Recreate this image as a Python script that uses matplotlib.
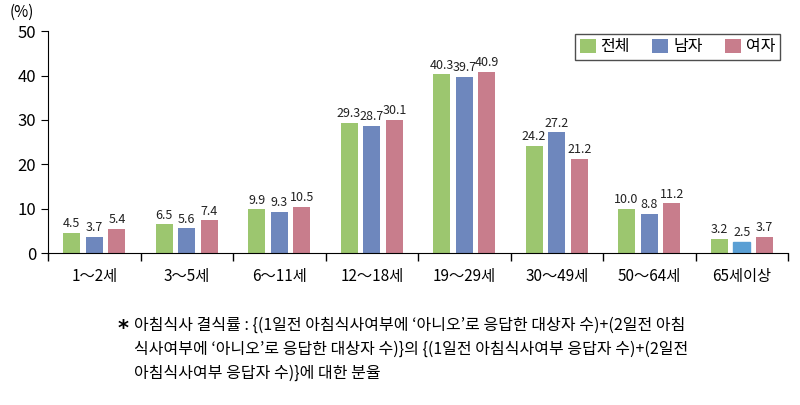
import numpy as np
import matplotlib
matplotlib.use("Agg")
import matplotlib.pyplot as plt

plt.rcParams['font.family'] = ['Noto Sans CJK KR', 'DejaVu Sans']

categories = ["1～2세", "3～5세", "6～11세", "12～18세", "19～29세", "30～49세", "50～64세", "65세이상"]
total = [4.5, 6.5, 9.9, 29.3, 40.3, 24.2, 10.0, 3.2]
male = [3.7, 5.6, 9.3, 28.7, 39.7, 27.2, 8.8, 2.5]
female = [5.4, 7.4, 10.5, 30.1, 40.9, 21.2, 11.2, 3.7]
series_names = ["전체", "남자", "여자"]
colors = ["#9cc66f", "#6e87bd", "#c87d8c"]

footnote = ("아침식사 결식률 : {(1일전 아침식사여부에 ‘아니오’로 응답한 대상자 수)+(2일전 아침\n"
            "식사여부에 ‘아니오’로 응답한 대상자 수)}의 {(1일전 아침식사여부 응답자 수)+(2일전\n"
            "아침식사여부 응답자 수)}에 대한 분율")

fig = plt.figure(figsize=(8, 4.05), dpi=100)
ax = fig.add_axes([0.06, 0.375, 0.925, 0.548])

x = np.arange(len(categories))
w = 0.185
step = 0.245
series = [total, male, female]
for i, (vals, name, c) in enumerate(zip(series, series_names, colors)):
    bars = ax.bar(x + (i - 1) * step, vals, width=w, color=c, label=name)
    for b, v in zip(bars, vals):
        ax.text(b.get_x() + b.get_width() / 2, v + 0.6, f"{v:.1f}",
                ha="center", va="bottom", fontsize=9, color="#222222")
# last male bar drawn in a lighter blue in the original
ax.patches[len(categories) * 2 - 1].set_color("#5a9fd4")

ax.set_xlim(-0.5, len(categories) - 0.5)
ax.set_ylim(0, 50)
ax.set_yticks([0, 10, 20, 30, 40, 50])
ax.set_xticks(x)
ax.set_xticklabels(categories, fontsize=11)
ax.set_xticks(np.arange(len(categories) + 1) - 0.5, minor=True)
ax.tick_params(axis="x", which="major", length=0, pad=11)
ax.tick_params(axis="x", which="minor", length=6, width=1, direction="out")
ax.tick_params(axis="y", labelsize=12, length=5, direction="out")
for s in ["top", "right"]:
    ax.spines[s].set_visible(False)
ax.text(-0.035, 1.045, "(%)", transform=ax.transAxes, fontsize=11, ha="center", va="bottom")

leg = ax.legend(loc="upper right", ncol=3, frameon=True, fancybox=False, fontsize=11.5,
                handlelength=1.0, handleheight=1.0, handletextpad=0.3, columnspacing=1.4,
                borderpad=0.3, bbox_to_anchor=(1.0, 1.025))
leg.get_frame().set_edgecolor("#222222")
leg.get_frame().set_linewidth(1.0)

fig.text(0.154, 0.188, "*", fontsize=15, fontweight="bold", va="center", ha="center",
         family="DejaVu Sans")
fig.text(0.168, 0.218, footnote, fontsize=11.5, va="top", ha="left", linespacing=1.55)

fig.savefig("out.png", dpi=100)
